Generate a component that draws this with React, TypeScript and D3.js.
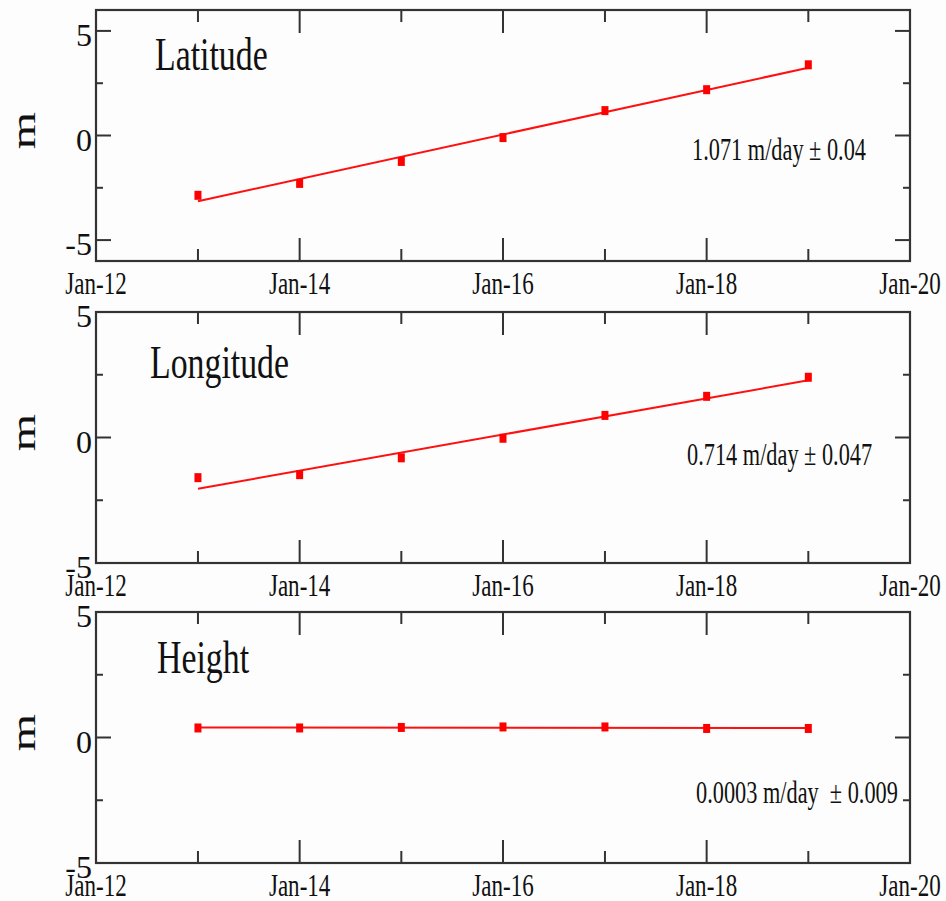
import React, { useEffect, useRef } from "react";
import * as d3 from "d3";

// survey dates (one per January)
const obsYears = [2013, 2014, 2015, 2016, 2017, 2018, 2019];
const latValues = [-2.86, -2.29, -1.24, -0.1, 1.19, 2.19, 3.38];
const lonValues = [-1.6, -1.48, -0.81, -0.03, 0.88, 1.64, 2.4];
const hgtValues = [0.38, 0.38, 0.4, 0.42, 0.42, 0.36, 0.36];

// fitted trend line, value at first and last survey
const fitStart = [-3.14, -2.04, 0.4];
const fitEnd = [3.24, 2.28, 0.38];

const panelTitles = ["Latitude", "Longitude", "Height"];
const rateLabels = ["1.071 m/day \u00b1 0.04", "0.714 m/day \u00b1 0.047", "0.0003 m/day  \u00b1 0.009"];
const yTickValues = [-5, 0, 5];
const yTickLabels = ["-5", "0", "5"];
const yMinorTicks = [-2.5, 2.5];
const xLabelYears = [2012, 2014, 2016, 2018, 2020];

const FONT = "'Liberation Serif', 'Times New Roman', serif";
const SQ = 0.72; // text in the original is squeezed horizontally

export default function App() {
  const ref = useRef<SVGSVGElement>(null);

  useEffect(() => {
    const width = 946;
    const height = 901;
    const left = 96;
    const right = 910;
    const panelH = 251;
    const tops = [10, 312, 612];
    const yDomains = [[-6, 6], [-5, 5], [-5, 5]];
    const series = [latValues, lonValues, hgtValues];
    const titlePos = [[155, 70], [150, 378], [157, 673]];
    const ratePos = [[692, 160], [687, 465], [696, 803]];

    const svg = d3.select(ref.current).attr("width", width).attr("height", height);
    svg.selectAll("*").remove();
    svg.append("rect").attr("width", width).attr("height", height).attr("fill", "#fdfdfd");

    const x = d3.scaleTime()
      .domain([new Date(2012, 0, 1), new Date(2020, 0, 1)])
      .range([left, right]);
    const yearDates = d3.timeYear.range(new Date(2012, 0, 1), new Date(2020, 0, 2));
    const obsDates = obsYears.map(yr => new Date(yr, 0, 1));

    tops.forEach((top, i) => {
      const bottom = top + panelH;
      const y = d3.scaleLinear().domain(yDomains[i]).range([bottom, top]);
      const g = svg.append("g");

      // x ticks, top and bottom, pointing inward
      yearDates.forEach(d => {
        const yr = d.getFullYear();
        if (yr === 2012 || yr === 2020) return;
        const len = yr % 2 === 0 ? 23 : 12;
        const px = x(d);
        g.append("line").attr("x1", px).attr("x2", px).attr("y1", bottom).attr("y2", bottom - len)
          .attr("stroke", "#333").attr("stroke-width", 2);
        g.append("line").attr("x1", px).attr("x2", px).attr("y1", top).attr("y2", top + len)
          .attr("stroke", "#333").attr("stroke-width", 2);
      });

      // y ticks, left and right
      const yTicks = yTickValues.map(v => ({ v, len: 15 })).concat(yMinorTicks.map(v => ({ v, len: 7 })));
      yTicks.forEach(t => {
        const py = y(t.v);
        g.append("line").attr("x1", left).attr("x2", left + t.len).attr("y1", py).attr("y2", py)
          .attr("stroke", "#333").attr("stroke-width", 2);
        g.append("line").attr("x1", right).attr("x2", right - t.len).attr("y1", py).attr("y2", py)
          .attr("stroke", "#333").attr("stroke-width", 2);
      });

      // frame
      g.append("rect").attr("x", left).attr("y", top).attr("width", right - left).attr("height", panelH)
        .attr("fill", "none").attr("stroke", "#333").attr("stroke-width", 2.2);

      // y tick labels (digits are not squeezed in the original)
      yTickValues.forEach((v, k) => {
        g.append("text")
          .attr("x", 92).attr("y", y(v) + 15)
          .attr("text-anchor", "end")
          .attr("font-family", FONT).attr("font-size", 32).attr("fill", "#111")
          .text(yTickLabels[k]);
      });

      // x tick labels
      xLabelYears.forEach(yr => {
        g.append("text")
          .attr("transform", `translate(${x(new Date(yr, 0, 1))},${bottom + 33}) scale(${SQ},1)`)
          .attr("text-anchor", "middle")
          .attr("font-family", FONT).attr("font-size", 32).attr("fill", "#111")
          .text(d3.timeFormat("%b-%y")(new Date(yr, 0, 1)));
      });

      // axis label
      g.append("text")
        .attr("transform", `translate(35,${top + panelH / 2 - 5}) scale(${SQ},1) rotate(-90)`)
        .attr("text-anchor", "middle")
        .attr("font-family", FONT).attr("font-size", 48).attr("fill", "#111")
        .text("m");

      // panel title
      g.append("text")
        .attr("transform", `translate(${titlePos[i][0]},${titlePos[i][1]}) scale(${SQ},1)`)
        .attr("font-family", FONT).attr("font-size", 47).attr("fill", "#111")
        .text(panelTitles[i]);

      // rate annotation
      g.append("text")
        .attr("transform", `translate(${ratePos[i][0]},${ratePos[i][1]}) scale(${SQ},1)`)
        .attr("font-family", FONT).attr("font-size", 31).attr("fill", "#111")
        .style("white-space", "pre")
        .text(rateLabels[i]);

      // trend line
      const fit = [
        { d: obsDates[0], v: fitStart[i] },
        { d: obsDates[obsDates.length - 1], v: fitEnd[i] },
      ];
      const line = d3.line<{ d: Date; v: number }>().x(p => x(p.d)).y(p => y(p.v));
      g.append("path").attr("d", line(fit)).attr("fill", "none")
        .attr("stroke", "#ff1010").attr("stroke-width", 2);

      // observations
      g.selectAll(".pt").data(series[i]).join("rect").attr("class", "pt")
        .attr("x", (_, k) => x(obsDates[k]) - 3.5)
        .attr("y", v => y(v) - 4.5)
        .attr("width", 7).attr("height", 9)
        .attr("fill", "#ff0000");
    });
  }, []);

  return (
    <svg ref={ref} style={{ position: "absolute", left: 0, top: 0, display: "block" }}></svg>
  );
}
